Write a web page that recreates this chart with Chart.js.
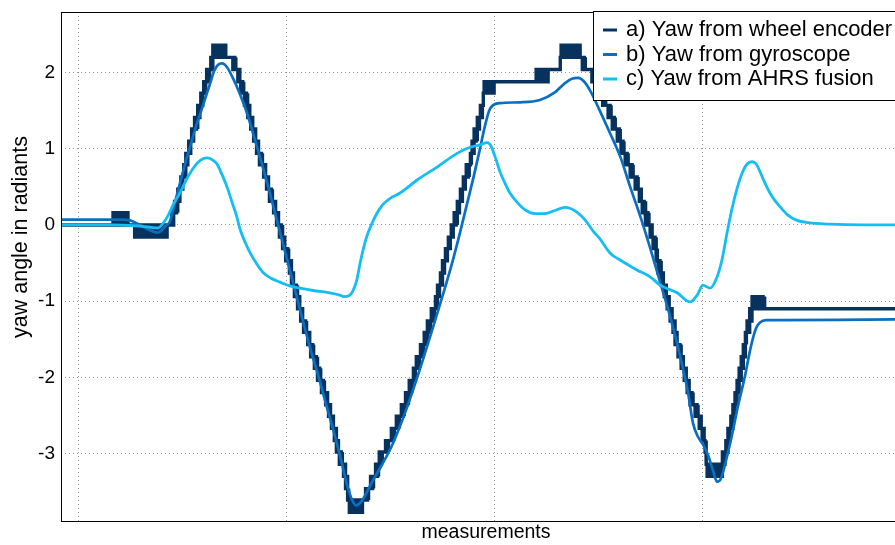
<!DOCTYPE html>
<html>
<head>
<meta charset="utf-8">
<script src="https://cdn.jsdelivr.net/npm/chart.js@4/dist/chart.umd.min.js"></script>
<style>
  html, body { margin: 0; padding: 0; background: #fff; overflow: hidden; }
  #wrap { position: relative; width: 930px; height: 545px; }
</style>
</head>
<body>
<div id="wrap"><canvas id="yaw" width="930" height="545"></canvas></div>
<script>
// ---- series names ----
const seriesNames = ['a) Yaw from wheel encoder', 'b) Yaw from gyroscope', 'c) Yaw from AHRS fusion'];
const seriesColors = ['#07325e', '#0a6fbf', '#14bdf2'];

// ---- axis ticks ----
const xTicks = [0, 500, 1000, 1500, 2000];
const yTicks = [-3, -2, -1, 0, 1, 2];
const xRange = [-43, 2000];
const yRange = [-3.885, 2.795];

// ---- a) wheel encoder: quantised yaw (count changes) ----
// measurement index where the count changes
const encX = [
  -43, 82, 118, 134, 212,
  223, 230, 238, 245, 252, 257, 264, 271, 278, 286, 293, 300, 307, 317,
  322, 353,
  370, 382, 389, 398, 406, 413, 420, 427, 434, 444, 451, 458, 468, 475, 482, 490, 497, 506, 511,
  518, 526, 533, 540, 550, 557, 566, 574, 583, 593, 600, 607, 614, 619, 626, 636, 641, 646,
  650, 682,
  689, 701, 713, 722, 737, 751, 763, 775, 785, 794, 804, 811, 821, 830, 838, 847, 857,
  862, 869, 874, 881, 888, 895, 902, 910, 917, 924, 931, 941, 945, 950, 958, 965, 972,
  974, 1099, 1157, 1159, 1205, 1210,
  1233, 1245, 1259, 1272, 1282, 1294, 1303, 1313, 1325, 1337, 1347, 1354, 1363, 1373, 1380, 1388, 1392,
  1400, 1407, 1414, 1421, 1428, 1433, 1440, 1448, 1455, 1462, 1469, 1481, 1491, 1498, 1505, 1508,
  1510, 1546,
  1548, 1555, 1560, 1567, 1572, 1577, 1582, 1587, 1592, 1597, 1602, 1606, 1613,
  1618, 1649, 2000
];
// yaw after the change (rad)
const encY = [
  0, 0.16, 0, -0.16, 0,
  0.16, 0.31, 0.47, 0.63, 0.79, 0.94, 1.10, 1.26, 1.41, 1.57, 1.73, 1.88, 2.04, 2.20,
  2.36, 2.20,
  2.04, 1.88, 1.73, 1.57, 1.41, 1.26, 1.10, 0.94, 0.79, 0.63, 0.47, 0.31, 0.16, 0, -0.16, -0.31, -0.47, -0.63, -0.79,
  -0.94, -1.10, -1.26, -1.41, -1.57, -1.73, -1.88, -2.04, -2.20, -2.36, -2.51, -2.67, -2.83, -2.98, -3.14, -3.30, -3.46, -3.61,
  -3.77, -3.61,
  -3.46, -3.30, -3.14, -2.98, -2.83, -2.67, -2.51, -2.36, -2.20, -2.04, -1.88, -1.73, -1.57, -1.41, -1.26, -1.10, -0.94,
  -0.79, -0.63, -0.47, -0.31, -0.16, 0, 0.16, 0.31, 0.47, 0.63, 0.79, 0.94, 1.10, 1.26, 1.41, 1.57, 1.73,
  1.88, 2.04, 2.20, 2.36, 2.20, 2.04,
  1.88, 1.73, 1.57, 1.41, 1.26, 1.10, 0.94, 0.79, 0.63, 0.47, 0.31, 0.16, 0, -0.16, -0.31, -0.47, -0.63,
  -0.79, -0.94, -1.10, -1.26, -1.41, -1.57, -1.73, -1.88, -2.04, -2.20, -2.36, -2.51, -2.67, -2.83, -2.98, -3.14,
  -3.30, -3.14,
  -2.98, -2.83, -2.67, -2.51, -2.36, -2.20, -2.04, -1.88, -1.73, -1.57, -1.41, -1.26, -1.10,
  -0.94, -1.10, -1.10
];
// how long (in measurements) the count chatters between old and new value after each change
const encChatter = [
  0, 36, 0, 78, 0,
  9, 9, 9, 9, 9, 9, 9, 9, 9, 9, 9, 9, 9, 9,
  31, 0,
  9, 9, 9, 9, 9, 9, 9, 9, 9, 9, 9, 9, 9, 9, 9, 9, 9, 9, 9,
  9, 9, 9, 9, 9, 9, 9, 9, 9, 9, 9, 9, 9, 9, 9, 9, 9, 9,
  32, 0,
  9, 9, 9, 9, 9, 9, 9, 9, 9, 9, 9, 9, 9, 9, 9, 9, 9,
  9, 9, 9, 9, 9, 9, 9, 9, 9, 9, 9, 9, 9, 9, 9, 9, 9,
  24, 31, 0, 46, 0, 9,
  9, 9, 9, 9, 9, 9, 9, 9, 9, 9, 9, 9, 9, 9, 9, 9, 9,
  9, 9, 9, 9, 9, 9, 9, 9, 9, 9, 9, 9, 9, 9, 9, 2,
  36, 0,
  9, 9, 9, 9, 9, 9, 9, 9, 9, 9, 9, 9, 9,
  31, 0, 0
];

// ---- b) gyroscope ----
const gyroX = [
  -43, 99, 123, 147, 171, 188, 197, 207, 219, 231, 243, 255, 267, 279, 291, 303, 315, 325,
  334, 344, 356, 370, 387, 404, 423, 440, 459, 476, 495, 514, 531, 555, 575, 594, 613, 630, 644, 656,
  666, 680, 704, 728, 752, 776, 801, 825, 849, 873, 897, 916, 933, 950, 964, 976, 986, 995, 1012, 1060,
  1108, 1144, 1168, 1185, 1200, 1216, 1233, 1252, 1277, 1301, 1325, 1349, 1373, 1397, 1421, 1445, 1464, 1476, 1488, 1500,
  1512, 1524, 1534, 1543, 1555, 1570, 1584, 1601, 1615, 1628, 1637, 1652, 1685, 1962, 2000
];
const gyroY = [
  0.07, 0.07, 0.06, 0.0, -0.07, -0.10, -0.08, -0.02, 0.05, 0.30, 0.55, 0.80, 1.02, 1.25, 1.45, 1.65, 1.85, 2.02,
  2.10, 2.12, 2.07, 1.93, 1.72, 1.47, 1.12, 0.80, 0.42, 0.06, -0.34, -0.74, -1.10, -1.60, -1.97, -2.35, -2.72, -3.08, -3.40, -3.60,
  -3.68, -3.62, -3.38, -3.15, -2.90, -2.58, -2.20, -1.80, -1.38, -0.95, -0.50, -0.10, 0.28, 0.66, 1.00, 1.30, 1.50, 1.57, 1.60, 1.61,
  1.64, 1.74, 1.86, 1.92, 1.93, 1.87, 1.72, 1.50, 1.20, 0.90, 0.50, 0.12, -0.30, -0.75, -1.20, -1.72, -2.20, -2.60, -2.78, -2.88,
  -3.02, -3.22, -3.37, -3.33, -3.10, -2.75, -2.38, -1.98, -1.60, -1.35, -1.28, -1.25, -1.25, -1.24, -1.24
];

// ---- c) AHRS fusion ----
const ahrsX = [
  -43, 75, 135, 171, 190, 202, 214, 228, 243, 257, 272, 284, 298, 310, 322, 332, 344, 356, 368, 380,
  387, 399, 411, 426, 442, 462, 483, 507, 531, 563, 603, 627, 637, 649, 659, 668, 676, 683, 692, 702,
  716, 731, 748, 772, 813, 861, 909, 940, 964, 981, 990, 1000, 1012, 1024, 1036, 1053, 1072, 1096, 1120, 1144,
  1168, 1180, 1197, 1216, 1236, 1252, 1277, 1301, 1341, 1373, 1397, 1438, 1469, 1486, 1500, 1517, 1534, 1546, 1558, 1570,
  1582, 1594, 1606, 1618, 1628, 1637, 1649, 1661, 1673, 1685, 1704, 1726, 1753, 1805, 1878, 2000
];
const ahrsY = [
  0, 0, -0.01, -0.03, -0.04, 0.02, 0.12, 0.28, 0.42, 0.58, 0.72, 0.81, 0.87, 0.88, 0.85, 0.80, 0.66, 0.50, 0.30, 0.10,
  -0.05, -0.22, -0.36, -0.50, -0.62, -0.70, -0.75, -0.80, -0.83, -0.86, -0.89, -0.92, -0.94, -0.93, -0.86, -0.72, -0.50, -0.33, -0.15, -0.01,
  0.15, 0.27, 0.35, 0.42, 0.59, 0.76, 0.94, 1.02, 1.05, 1.08, 1.04, 0.90, 0.70, 0.55, 0.42, 0.30, 0.20, 0.15, 0.15, 0.19,
  0.23, 0.22, 0.17, 0.07, -0.08, -0.18, -0.37, -0.46, -0.59, -0.68, -0.79, -0.89, -1.01, -0.92, -0.79, -0.83, -0.68, -0.45, -0.10, 0.22,
  0.48, 0.68, 0.80, 0.83, 0.80, 0.70, 0.55, 0.42, 0.32, 0.24, 0.13, 0.06, 0.03, 0.01, 0.00, 0.00
];

// Turn the encoder count changes into a polyline: a flat run, a vertical
// jump, and while the count chatters the line flips between both values.
const CHATTER_STEP = 2.4;
function encoderPoints() {
  const pts = [{ x: encX[0], y: encY[0] }];
  let prev = encY[0];
  for (let i = 1; i < encX.length; i++) {
    const x0 = encX[i], v = encY[i];
    const nextX = i + 1 < encX.length ? encX[i + 1] : x0;
    const hold = Math.min(encChatter[i], nextX - x0);
    pts.push({ x: x0, y: prev });
    pts.push({ x: x0, y: v });
    let t = x0, cur = v;
    while (hold > 0 && t + CHATTER_STEP <= x0 + hold + 0.01) {
      t += CHATTER_STEP;
      pts.push({ x: t, y: cur });
      cur = cur === v ? prev : v;
      pts.push({ x: t, y: cur });
    }
    if (cur !== v) pts.push({ x: t, y: v });
    prev = v;
  }
  return pts;
}
const zip = (xs, ys) => xs.map((x, i) => ({ x, y: ys[i] }));

const FONT = '"Liberation Sans", Arial, Helvetica, sans-serif';
const yTitle = 'yaw angle in radiants';

// Axes box drawn over the traces, the y label, then the legend box in the upper right.
const frameAndLegend = {
  id: 'frameAndLegend',
  afterDatasetsDraw(chart) {
    const { ctx, chartArea: a } = chart;
    ctx.save();
    ctx.strokeStyle = '#000';
    ctx.lineWidth = 1;
    ctx.strokeRect(Math.round(a.left) + 0.5, Math.round(a.top) + 0.5,
      Math.round(a.right - a.left), Math.round(a.bottom - a.top));
    ctx.restore();
  },
  afterDraw(chart) {
    const { ctx, chartArea: a } = chart;
    ctx.save();
    ctx.translate(a.left - 40, a.top + 225);
    ctx.rotate(-Math.PI / 2);
    ctx.font = '21.5px ' + FONT;
    ctx.fillStyle = '#000';
    ctx.textAlign = 'center';
    ctx.textBaseline = 'middle';
    ctx.fillText(yTitle, 0, 0);
    ctx.restore();

    const bx = a.left + 532, by = a.top - 1, bw = 340, bh = 89;
    ctx.save();
    ctx.fillStyle = '#fff';
    ctx.fillRect(bx, by, bw, bh);
    ctx.strokeStyle = '#000';
    ctx.lineWidth = 1;
    ctx.strokeRect(bx + 0.5, by + 0.5, bw, bh);
    ctx.font = '22px ' + FONT;
    ctx.textBaseline = 'alphabetic';
    ctx.textAlign = 'left';
    seriesNames.forEach((name, i) => {
      const base = by + 25 + i * 24.5;
      ctx.strokeStyle = seriesColors[i];
      ctx.lineWidth = 3;
      ctx.beginPath();
      ctx.moveTo(bx + 10, base - 6);
      ctx.lineTo(bx + 24, base - 6);
      ctx.stroke();
      ctx.fillStyle = '#000';
      ctx.fillText(name, bx + 33, base);
    });
    ctx.restore();
  }
};

const grid = {
  color: 'rgba(0,0,0,0.42)',
  lineWidth: 1,
  drawTicks: false
};

new Chart(document.getElementById('yaw'), {
  type: 'line',
  data: {
    datasets: [
      { label: seriesNames[0], data: encoderPoints(), borderColor: seriesColors[0], borderWidth: 3.4,
        pointRadius: 0, tension: 0, borderJoinStyle: 'miter', order: 3, clip: 0 },
      { label: seriesNames[1], data: zip(gyroX, gyroY), borderColor: seriesColors[1], borderWidth: 2.7,
        pointRadius: 0, cubicInterpolationMode: 'monotone', order: 2, clip: 0 },
      { label: seriesNames[2], data: zip(ahrsX, ahrsY), borderColor: seriesColors[2], borderWidth: 2.8,
        pointRadius: 0, cubicInterpolationMode: 'monotone', order: 1, clip: 0 }
    ]
  },
  options: {
    responsive: false,
    animation: false,
    devicePixelRatio: 1,
    parsing: false,
    layout: { padding: { left: 0, right: 19, top: 12, bottom: 0 } },
    plugins: { legend: { display: false }, tooltip: { enabled: false } },
    scales: {
      x: {
        type: 'linear',
        min: xRange[0], max: xRange[1],
        afterBuildTicks: s => { s.ticks = xTicks.map(v => ({ value: v })); },
        afterFit: s => { s.height = 24; s.paddingLeft = 0; s.paddingRight = 0; },
        ticks: { display: false },
        grid: Object.assign({}, grid),
        border: { display: false, dash: [1, 3] },
        title: { display: true, text: 'measurements', color: '#000',
                 font: { family: FONT, size: 19.5 }, padding: { top: 0, bottom: 1 } }
      },
      y: {
        type: 'linear',
        min: yRange[0], max: yRange[1],
        afterBuildTicks: s => { s.ticks = yTicks.map(v => ({ value: v })); },
        afterFit: s => { s.width = 61; s.paddingTop = 0; s.paddingBottom = 0; },
        ticks: { color: '#000', font: { family: FONT, size: 19 }, padding: 6 },
        grid: Object.assign({}, grid),
        border: { display: false, dash: [1, 3] }
      }
    }
  },
  plugins: [frameAndLegend]
});
</script>
</body>
</html>
